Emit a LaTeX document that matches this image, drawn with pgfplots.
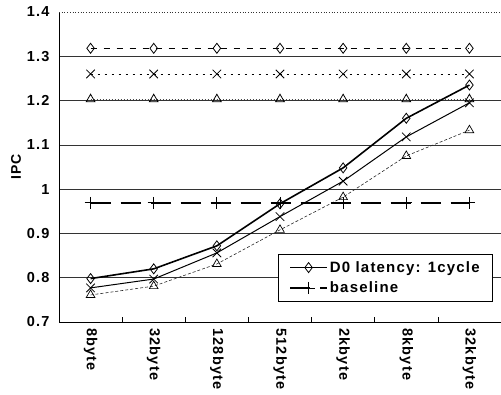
\documentclass[border=0pt]{standalone}
\usepackage{pgfplots}
\pgfplotsset{compat=1.18}
\usepackage{fontspec}
\setmainfont{Liberation Sans}
\newfontfamily\tf[LetterSpace=8]{Liberation Sans}
\begin{document}
\begin{tikzpicture}[x=1pt,y=1pt]
\begin{axis}[
  at={(59pt,73pt)}, anchor=south west,
  scale only axis, width=442pt, height=310pt,
  xmin=-0.5, xmax=6.5, ymin=0.7, ymax=1.4,
  axis x line*=bottom, axis y line*=left,
  axis line style={black, line width=0.9pt},
  xtick={0,1,2,3,4,5,6},
  xticklabels={8byte,32byte,128byte,512byte,2kbyte,8kbyte,32kbyte},
  minor xtick={0.5,1.5,2.5,3.5,4.5,5.5},
  major tick length=0pt, minor tick length=5pt, tick align=inside,
  minor tick style={black, line width=0.6pt},
  xticklabel style={rotate=-90, anchor=west, font=\fontsize{14.5}{16}\tf\bfseries, xshift=3pt},
  ytick={0.7,0.8,0.9,1,1.1,1.2,1.3},
  extra y ticks={1.4},
  extra y tick style={grid style={black!80, dotted, line width=0.6pt}},
  ymajorgrids,
  grid style={black!80, line width=0.7pt},
  yticklabel style={font=\fontsize{14.5}{16}\tf\bfseries, xshift=-6pt},
  /pgf/number format/assume math mode=true,
  /pgf/number format/fixed,
  ylabel={\bfseries IPC},
  every axis y label/.style={at={(rel axis cs:-0.097,0.5)}, rotate=90, anchor=center, font=\fontsize{14}{16}\tf},
  legend style={at={(rel axis cs:0.982,0.219)}, anchor=north east, draw=black, line width=0.6pt,
    font=\fontsize{15}{17}\tf\bfseries, row sep=4pt, inner xsep=11pt, inner ysep=5pt},
  legend cell align=left,
  legend image code/.code={%
    \draw[#1, mark=none, line width=1.6pt] (0pt,0pt) -- (37pt,0pt);
    \draw[#1, only marks] plot coordinates {(18.5pt,0pt)};},
]
% horizontal reference lines
\addplot[black, line width=1pt, dash pattern=on 6pt off 7pt, mark=diamond, mark size=5pt,
  mark options={solid, fill=white, line width=0.8pt}, forget plot]
  coordinates {(0,1.318)(1,1.318)(2,1.318)(3,1.318)(4,1.318)(5,1.318)(6,1.318)};
\addplot[black, line width=0.6pt, dash pattern=on 2pt off 5pt, mark=x, mark size=6pt,
  mark options={solid, line width=0.8pt}, forget plot]
  coordinates {(0,1.26)(1,1.26)(2,1.26)(3,1.26)(4,1.26)(5,1.26)(6,1.26)};
\addplot[black!70, line width=0.6pt, dash pattern=on 1pt off 2pt, mark=triangle, mark size=5pt,
  mark options={solid, black, fill=white, line width=0.8pt}, forget plot]
  coordinates {(0,1.203)(1,1.203)(2,1.203)(3,1.203)(4,1.203)(5,1.203)(6,1.203)};
% curves
\addplot[black!85, line width=0.6pt, dash pattern=on 3pt off 2pt, mark=triangle, mark size=5pt,
  mark options={solid, black, fill=white, line width=0.7pt}, forget plot]
  coordinates {(0,0.761)(1,0.781)(2,0.831)(3,0.908)(4,0.982)(5,1.075)(6,1.133)};
\addplot[black, line width=1pt, mark=x, mark size=6pt,
  mark options={solid, line width=0.8pt}, forget plot]
  coordinates {(0,0.777)(1,0.797)(2,0.856)(3,0.938)(4,1.018)(5,1.118)(6,1.195)};
\addplot[black, line width=1.6pt, mark=diamond, mark size=5pt,
  mark options={solid, fill=white, line width=0.8pt}]
  coordinates {(0,0.798)(1,0.82)(2,0.872)(3,0.967)(4,1.048)(5,1.16)(6,1.235)};
\addlegendentry{D0 latency: 1cycle}
\addplot[black, line width=1.6pt, dash pattern=on 20pt off 10pt, mark=+, mark size=6pt,
  mark options={solid, line width=0.8pt}]
  coordinates {(0,0.969)(1,0.969)(2,0.969)(3,0.969)(4,0.969)(5,0.969)(6,0.969)};
\addlegendentry{baseline}
\end{axis}
\pgfresetboundingbox
\useasboundingbox (0pt,0pt) rectangle (501pt,395pt);
\end{tikzpicture}
\end{document}
